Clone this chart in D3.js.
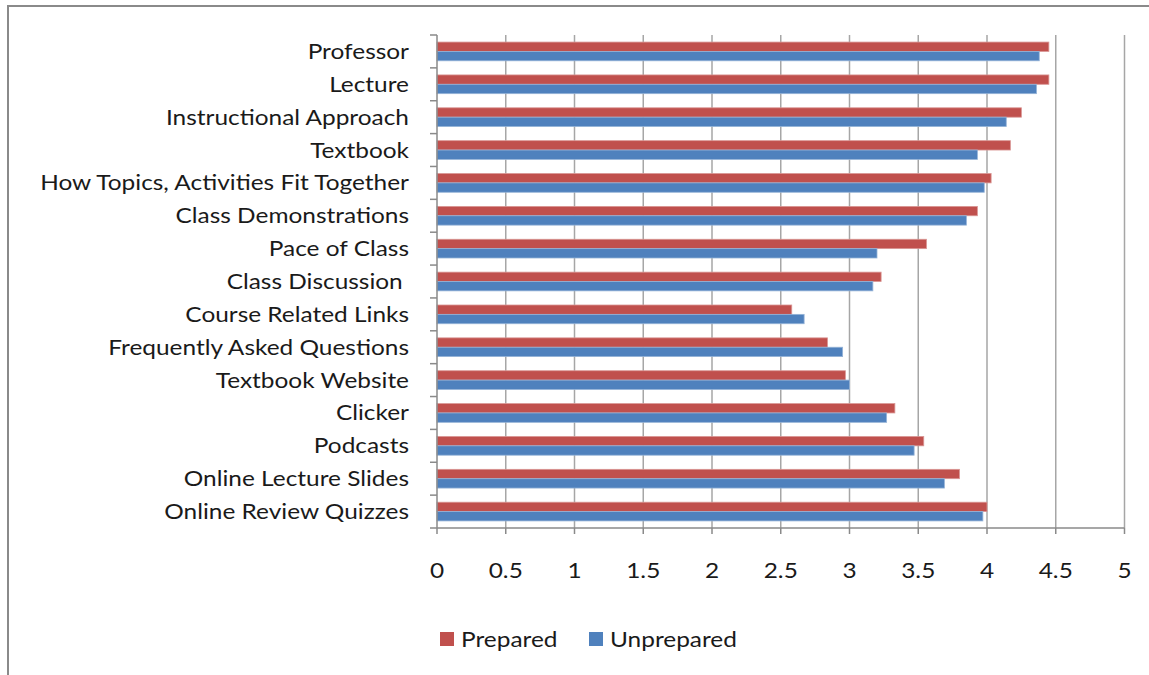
<!DOCTYPE html>
<html>
<head>
<meta charset="utf-8">
<script src="https://cdnjs.cloudflare.com/ajax/libs/d3/7.8.5/d3.min.js"></script>
<style>
  html, body { margin: 0; padding: 0; background: #fff; }
  svg text { font-family: Lato, "Open Sans", sans-serif; fill: #1a1a1a; white-space: pre; }
</style>
</head>
<body>
<svg id="chart" width="1149" height="675"></svg>
<script>
const categories = [
  "Professor", "Lecture", "Instructional Approach", "Textbook",
  "How Topics, Activities Fit Together", "Class Demonstrations", "Pace of Class",
  "Class Discussion ", "Course Related Links", "Frequently Asked Questions",
  "Textbook Website", "Clicker", "Podcasts", "Online Lecture Slides", "Online Review Quizzes"
];
const seriesNames = ["Prepared", "Unprepared"];
const prepared   = [4.45, 4.45, 4.25, 4.17, 4.03, 3.93, 3.56, 3.23, 2.58, 2.84, 2.97, 3.33, 3.54, 3.80, 4.00];
const unprepared = [4.38, 4.36, 4.14, 3.93, 3.98, 3.85, 3.20, 3.17, 2.67, 2.95, 3.00, 3.27, 3.47, 3.69, 3.97];
const xTicks = [0, 0.5, 1, 1.5, 2, 2.5, 3, 3.5, 4, 4.5, 5];
const colors = ["#C0504D", "#4F81BD"];
const strokes = ["#D99694", "#95B3D7"];

(function () {
const svg = d3.select("#chart");

// outer frame
svg.append("rect").attr("x", 8).attr("y", 6).attr("width", 1200).attr("height", 700)
  .attr("fill", "none").attr("stroke", "#8a8a8a").attr("stroke-width", 2);

const pLeft = 437, pRight = 1124.5, pTop = 35, pBottom = 528;
const x = d3.scaleLinear().domain([0, 5]).range([pLeft, pRight]);
const y = d3.scaleBand().domain(categories).range([pTop, pBottom]).paddingInner(0.43).paddingOuter(0.215);
const ySub = d3.scaleBand().domain(seriesNames).range([0, y.bandwidth()]);
const step = y.step();

// gridlines
svg.append("g").selectAll("line").data(xTicks.filter(d => d > 0)).join("line")
  .attr("x1", d => x(d)).attr("x2", d => x(d)).attr("y1", pTop).attr("y2", pBottom)
  .attr("stroke", "#a6a6a6").attr("stroke-width", 1.5);

// bars
const rows = categories.map((c, i) => ({ c, vals: [prepared[i], unprepared[i]] }));
const g = svg.append("g");
rows.forEach(r => {
  r.vals.forEach((v, j) => {
    g.append("rect")
      .attr("x", x(0))
      .attr("y", y(r.c) + ySub(seriesNames[j]))
      .attr("width", x(v) - x(0))
      .attr("height", ySub.bandwidth())
      .attr("fill", colors[j])
      .attr("stroke", strokes[j]).attr("stroke-width", 0.8);
  });
});

// y axis line and ticks
svg.append("line").attr("x1", pLeft).attr("x2", pLeft).attr("y1", pTop).attr("y2", pBottom)
  .attr("stroke", "#8a8a8a").attr("stroke-width", 1.5);
const bounds = d3.range(categories.length + 1).map(i => pTop + i * step);
svg.append("g").selectAll("line").data(bounds).join("line")
  .attr("x1", pLeft - 7).attr("x2", pLeft).attr("y1", d => d).attr("y2", d => d)
  .attr("stroke", "#8a8a8a").attr("stroke-width", 1.5);

// x axis line and ticks
svg.append("line").attr("x1", pLeft).attr("x2", pRight).attr("y1", pBottom).attr("y2", pBottom)
  .attr("stroke", "#8a8a8a").attr("stroke-width", 1.5);
svg.append("g").selectAll("line").data(xTicks).join("line")
  .attr("x1", d => x(d)).attr("x2", d => x(d)).attr("y1", pBottom).attr("y2", pBottom + 6)
  .attr("stroke", "#8a8a8a").attr("stroke-width", 1.5);

// category labels
const labels = svg.append("g").selectAll("text").data(categories).join("text")
  .attr("text-anchor", "end")
  .attr("font-size", 21)
  .text(d => d);
// compress horizontally to approximate the narrow original face
const ref = labels.filter(d => d.startsWith("How Topics")).node().getComputedTextLength();
const sx = 369 / ref;
labels.attr("transform", d => `translate(409,${y(d) + y.bandwidth() / 2 + 7.5}) scale(${sx},1)`);

// x tick labels
svg.append("g").selectAll("text").data(xTicks).join("text")
  .attr("text-anchor", "middle").attr("font-size", 21)
  .attr("transform", d => `translate(${x(d)},578) scale(${sx},1)`)
  .text(d => d3.format("~g")(d));

// legend
const legX = [440, 589];
const leg = svg.append("g");
seriesNames.forEach((s, j) => {
  leg.append("rect").attr("x", legX[j]).attr("y", 632).attr("width", 14).attr("height", 14)
    .attr("fill", colors[j]);
  leg.append("text").attr("font-size", 21)
    .attr("transform", `translate(${legX[j] + 21},647) scale(${sx},1)`)
    .text(s);
});
})();
</script>
</body>
</html>
